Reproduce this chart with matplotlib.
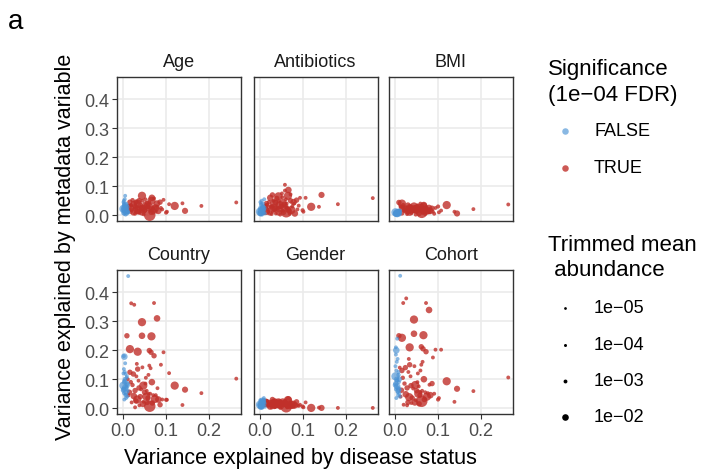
import numpy as np
import matplotlib
matplotlib.use("Agg")
import matplotlib.pyplot as plt

plt.rcParams["font.family"] = ["Liberation Sans", "DejaVu Sans"]

# features: variance explained by disease status, abundance, significance
disease_var = [
    0.263, 0.182, 0.144, 0.120, 0.138, 0.107, 0.094, 0.100, 0.082, 0.080,
    0.079, 0.072, 0.072, 0.066, 0.065, 0.061, 0.062, 0.064, 0.061, 0.059,
    0.067, 0.059, 0.047, 0.044, 0.044, 0.045, 0.034, 0.034, 0.032, 0.026,
    0.019, 0.016, 0.009, 0.016, 0.024, 0.028, 0.028, 0.040, 0.050, 0.055,
    0.074, 0.102, 0.091, 0.020, 0.038, 0.052, 0.056, 0.036, 0.013, 0.022,
    0.048, 0.070, 0.086, 0.030, 0.058,
    0.018, 0.025, 0.031, 0.037, 0.042, 0.046, 0.053, 0.063, 0.068, 0.076,
    0.011, 0.015, 0.033, 0.054, 0.088,
    0.012, 0.003, 0.005, 0.002, 0.006, 0.001, 0.004, 0.008, 0.002, 0.007,
    0.010, 0.003, 0.005, 0.009, 0.001, 0.011, 0.006, 0.004, 0.008, 0.002,
    0.003, 0.006, 0.009, 0.001, 0.004, 0.007, 0.010, 0.002,
]
abundance = [
    1e-3, 1e-3, 8e-3, 2e-2, 1e-3, 1e-3, 1e-3, 1.5e-3, 1e-2, 1e-3,
    1e-2, 1e-3, 5e-3, 2e-2, 5e-3, 5e-3, 5e-2, 1e-3, 1e-3, 1e-3,
    1e-2, 1e-3, 2e-2, 2e-2, 1e-2, 1e-3, 2e-2, 5e-3, 1e-3, 1e-3,
    1e-3, 2e-2, 5e-3, 5e-3, 5e-3, 5e-3, 1e-3, 5e-3, 5e-3, 1e-3,
    2e-2, 1e-3, 1e-3, 1e-3, 1e-3, 1e-3, 5e-3, 1e-3, 1e-3, 2e-3,
    1e-3, 1e-3, 5e-3, 5e-3, 5e-3,
    2e-3, 1e-2, 1e-3, 5e-3, 1e-3, 1e-2, 1e-3, 1e-3, 5e-3, 1e-3,
    1e-3, 5e-3, 2e-2, 2e-2, 1e-3,
    1e-3, 1e-2, 1e-3, 1e-3, 1e-3, 2e-2, 5e-3, 1e-3, 5e-3, 5e-3,
    1e-3, 1e-3, 1e-2, 5e-3, 1e-3, 1e-3, 1e-3, 2e-3, 2e-3, 1e-3,
    1e-3, 2e-3, 1e-3, 5e-3, 1e-3, 1e-3, 5e-3, 1e-3,
]
significant = [True] * 70 + [False] * 28

# variance explained by each metadata variable
var_age = [
    .044, .032, .015, .032, .041, .038, .053, .009, .015, .030,
    .040, .058, .025, .050, .010, .035, .000, .020, .045, .028,
    .060, .030, .020, .067, .010, .050, .040, .012, .028, .022,
    .035, .025, .015, .045, .008, .030, .005, .035, .018, .042,
    .024, .012, .020, .018, .008, .055, .025, .022, .032, .052,
    .003, .008, .045, .045, .030,
    .012, .038, .015, .050, .028, .025, .036, .015, .022, .012,
    .020, .030, .018, .035, .025,
    .010, .025, .067, .040, .020, .022, .030, .012, .008, .035,
    .018, .005, .015, .028, .045, .010, .002, .032, .024, .050,
    .015, .040, .005, .018, .055, .028, .012, .035,
]
var_antibiotics = [
    .059, .038, .070, .029, .029, .060, .060, .017, .006, .040,
    .045, .072, .050, .067, .020, .030, .012, .025, .055, .085,
    .087, .105, .035, .065, .010, .048, .040, .022, .050, .030,
    .020, .015, .010, .040, .008, .028, .004, .058, .030, .015,
    .018, .012, .033, .012, .006, .075, .010, .018, .025, .045,
    .002, .005, .052, .070, .038,
    .035, .060, .012, .045, .025, .020, .062, .040, .015, .030,
    .018, .032, .025, .042, .020,
    .006, .015, .050, .010, .030, .012, .020, .040, .005, .022,
    .008, .003, .010, .018, .025, .055, .002, .035, .028, .045,
    .020, .012, .030, .008, .040, .016, .024, .006,
]
var_bmi = [
    .037, .021, .006, .035, .012, .016, .025, .030, .015, .010,
    .025, .028, .018, .030, .012, .022, .010, .008, .020, .015,
    .035, .040, .020, .030, .018, .025, .012, .030, .014, .020,
    .036, .040, .044, .008, .025, .012, .004, .022, .014, .028,
    .016, .010, .005, .018, .008, .033, .006, .020, .030, .015,
    .002, .004, .024, .035, .022,
    .026, .022, .010, .028, .016, .024, .018, .032, .020, .010,
    .015, .028, .020, .026, .012,
    .005, .009, .015, .004, .012, .010, .006, .016, .003, .008,
    .002, .006, .004, .010, .007, .013, .001, .011, .005, .008,
    .005, .008, .012, .006, .009, .003, .014, .002,
]
var_country = [
    .102, .052, .064, .078, .011, .121, .193, .029, .030, .069,
    .310, .363, .181, .248, .193, .199, .007, .138, .147, .115,
    .090, .050, .078, .297, .250, .141, .195, .135, .153, .357,
    .362, .204, .250, .124, .118, .061, .003, .040, .055, .060,
    .032, .029, .030, .020, .010, .085, .020, .095, .045, .080,
    .022, .045, .012, .025, .035,
    .090, .042, .110, .070, .065, .015, .105, .050, .018, .045,
    .100, .055, .030, .040, .150,
    .456, .178, .155, .135, .118, .078, .090, .105, .065, .055,
    .040, .030, .070, .085, .120, .060, .048, .100, .072, .180,
    .095, .045, .110, .062, .125, .035, .080, .052,
]
var_gender = [
    .001, .001, .001, .001, .002, .020, .012, .006, .010, .005,
    .015, .020, .012, .028, .008, .018, .005, .003, .010, .020,
    .030, .025, .015, .020, .010, .012, .020, .006, .025, .010,
    .008, .018, .012, .022, .004, .014, .002, .010, .005, .022,
    .012, .003, .008, .015, .006, .016, .012, .004, .020, .010,
    .001, .003, .022, .030, .015,
    .016, .018, .012, .024, .008, .020, .014, .006, .010, .004,
    .016, .024, .015, .020, .010,
    .005, .010, .030, .020, .008, .012, .018, .025, .004, .015,
    .035, .002, .008, .022, .006, .028, .001, .014, .018, .025,
    .010, .020, .030, .012, .024, .006, .016, .028,
]
var_cohort = [
    .106, .059, .067, .093, .022, .202, .202, .030, .045, .081,
    .339, .363, .195, .252, .205, .212, .024, .160, .150, .130,
    .100, .055, .080, .306, .257, .145, .210, .150, .170, .379,
    .363, .243, .250, .130, .140, .070, .010, .035, .060, .075,
    .040, .035, .050, .012, .018, .090, .015, .110, .040, .085,
    .028, .055, .085, .020, .045,
    .105, .048, .125, .078, .068, .020, .120, .060, .030, .052,
    .140, .062, .038, .050, .175,
    .457, .200, .240, .185, .170, .110, .100, .125, .085, .060,
    .050, .035, .075, .065, .145, .040, .055, .095, .115, .210,
    .130, .070, .090, .080, .160, .045, .100, .065,
]

panel_names = ["Age", "Antibiotics", "BMI", "Country", "Gender", "Cohort"]
panel_values = [var_age, var_antibiotics, var_bmi, var_country, var_gender, var_cohort]

legend_abundance = [1e-5, 1e-4, 1e-3, 1e-2]
legend_labels = ["1e\u221205", "1e\u221204", "1e\u221203", "1e\u221202"]

col_true = "#C0302A"
col_false = "#4A92D4"


def point_size(a):
    # diameter in px grows with sqrt(abundance), converted to points^2
    d = 2.6 + 40 * np.sqrt(np.asarray(a))
    return (d * 0.72) ** 2


x = np.array(disease_var)
a = np.array(abundance)
sig = np.array(significant)

fig = plt.figure(figsize=(7.02, 4.77), dpi=100)
W, H = 702, 477

lefts = [117, 253.5, 389]
tops = [78, 271]
pw, ph = 124, 144

for i, (name, vals) in enumerate(zip(panel_names, panel_values)):
    r, c = divmod(i, 3)
    ax = fig.add_axes([lefts[c] / W, 1 - (tops[r] + ph) / H, pw / W, ph / H])
    y = np.array(vals)
    ax.scatter(x[sig], y[sig], s=point_size(a[sig]), color=col_true, alpha=0.8,
               linewidths=0, zorder=3)
    ax.scatter(x[~sig], y[~sig], s=point_size(a[~sig]), color=col_false, alpha=0.65,
               linewidths=0, zorder=4)
    ax.set_xlim(-0.014, 0.274)
    ax.set_ylim(-0.02, 0.477)
    ax.set_xticks([0, 0.1, 0.2])
    ax.set_yticks([0, 0.1, 0.2, 0.3, 0.4])
    ax.grid(True, color="#EBEBEB", linewidth=1.2, zorder=0)
    ax.set_axisbelow(True)
    for sp in ax.spines.values():
        sp.set_color("#333333")
        sp.set_linewidth(1.0)
    ax.tick_params(length=3.5, width=0.8, color="#333333", labelcolor="#4D4D4D",
                   labelsize=13, pad=2)
    ax.xaxis.set_major_formatter(matplotlib.ticker.FormatStrFormatter("%.1f"))
    ax.yaxis.set_major_formatter(matplotlib.ticker.FormatStrFormatter("%.1f"))
    if r == 0:
        ax.tick_params(axis="x", bottom=False, labelbottom=False)
    if c > 0:
        ax.tick_params(axis="y", left=False, labelleft=False)
    ax.set_title(name, fontsize=13, color="#1A1A1A", pad=8)

# overlay in pixel coordinates for titles and legend
ov = fig.add_axes([0, 0, 1, 1], zorder=-1)
ov.set_xlim(0, W)
ov.set_ylim(H, 0)
ov.axis("off")

ov.text(8, 22, "a", fontsize=20, va="center", ha="left")
ov.text(300, 459, "Variance explained by disease status", fontsize=15.5,
        ha="center", va="center")
ov.text(66, 247, "Variance explained by metadata variable", fontsize=15.5,
        ha="center", va="center", rotation=90)

ov.text(548, 70, "Significance", fontsize=16, va="center", ha="left")
ov.text(548, 96, "(1e\u221204 FDR)", fontsize=16, va="center", ha="left")
for yy, col, al, lab in [(132, col_false, 0.65, "FALSE"), (169, col_true, 0.8, "TRUE")]:
    ov.scatter([565], [yy], s=(6.5 * 0.72) ** 2, color=col, alpha=al, linewidths=0)
    ov.text(594, yy, lab, fontsize=13, va="center", ha="left")

ov.text(548, 246, "Trimmed mean", fontsize=16, va="center", ha="left")
ov.text(548, 271, " abundance", fontsize=16, va="center", ha="left")
for yy, av, lab in zip([309, 346, 382, 418], legend_abundance, legend_labels):
    ov.scatter([565], [yy], s=point_size(av), color="black", linewidths=0)
    ov.text(594, yy, lab, fontsize=13, va="center", ha="left")

fig.savefig("out.png", dpi=100)
